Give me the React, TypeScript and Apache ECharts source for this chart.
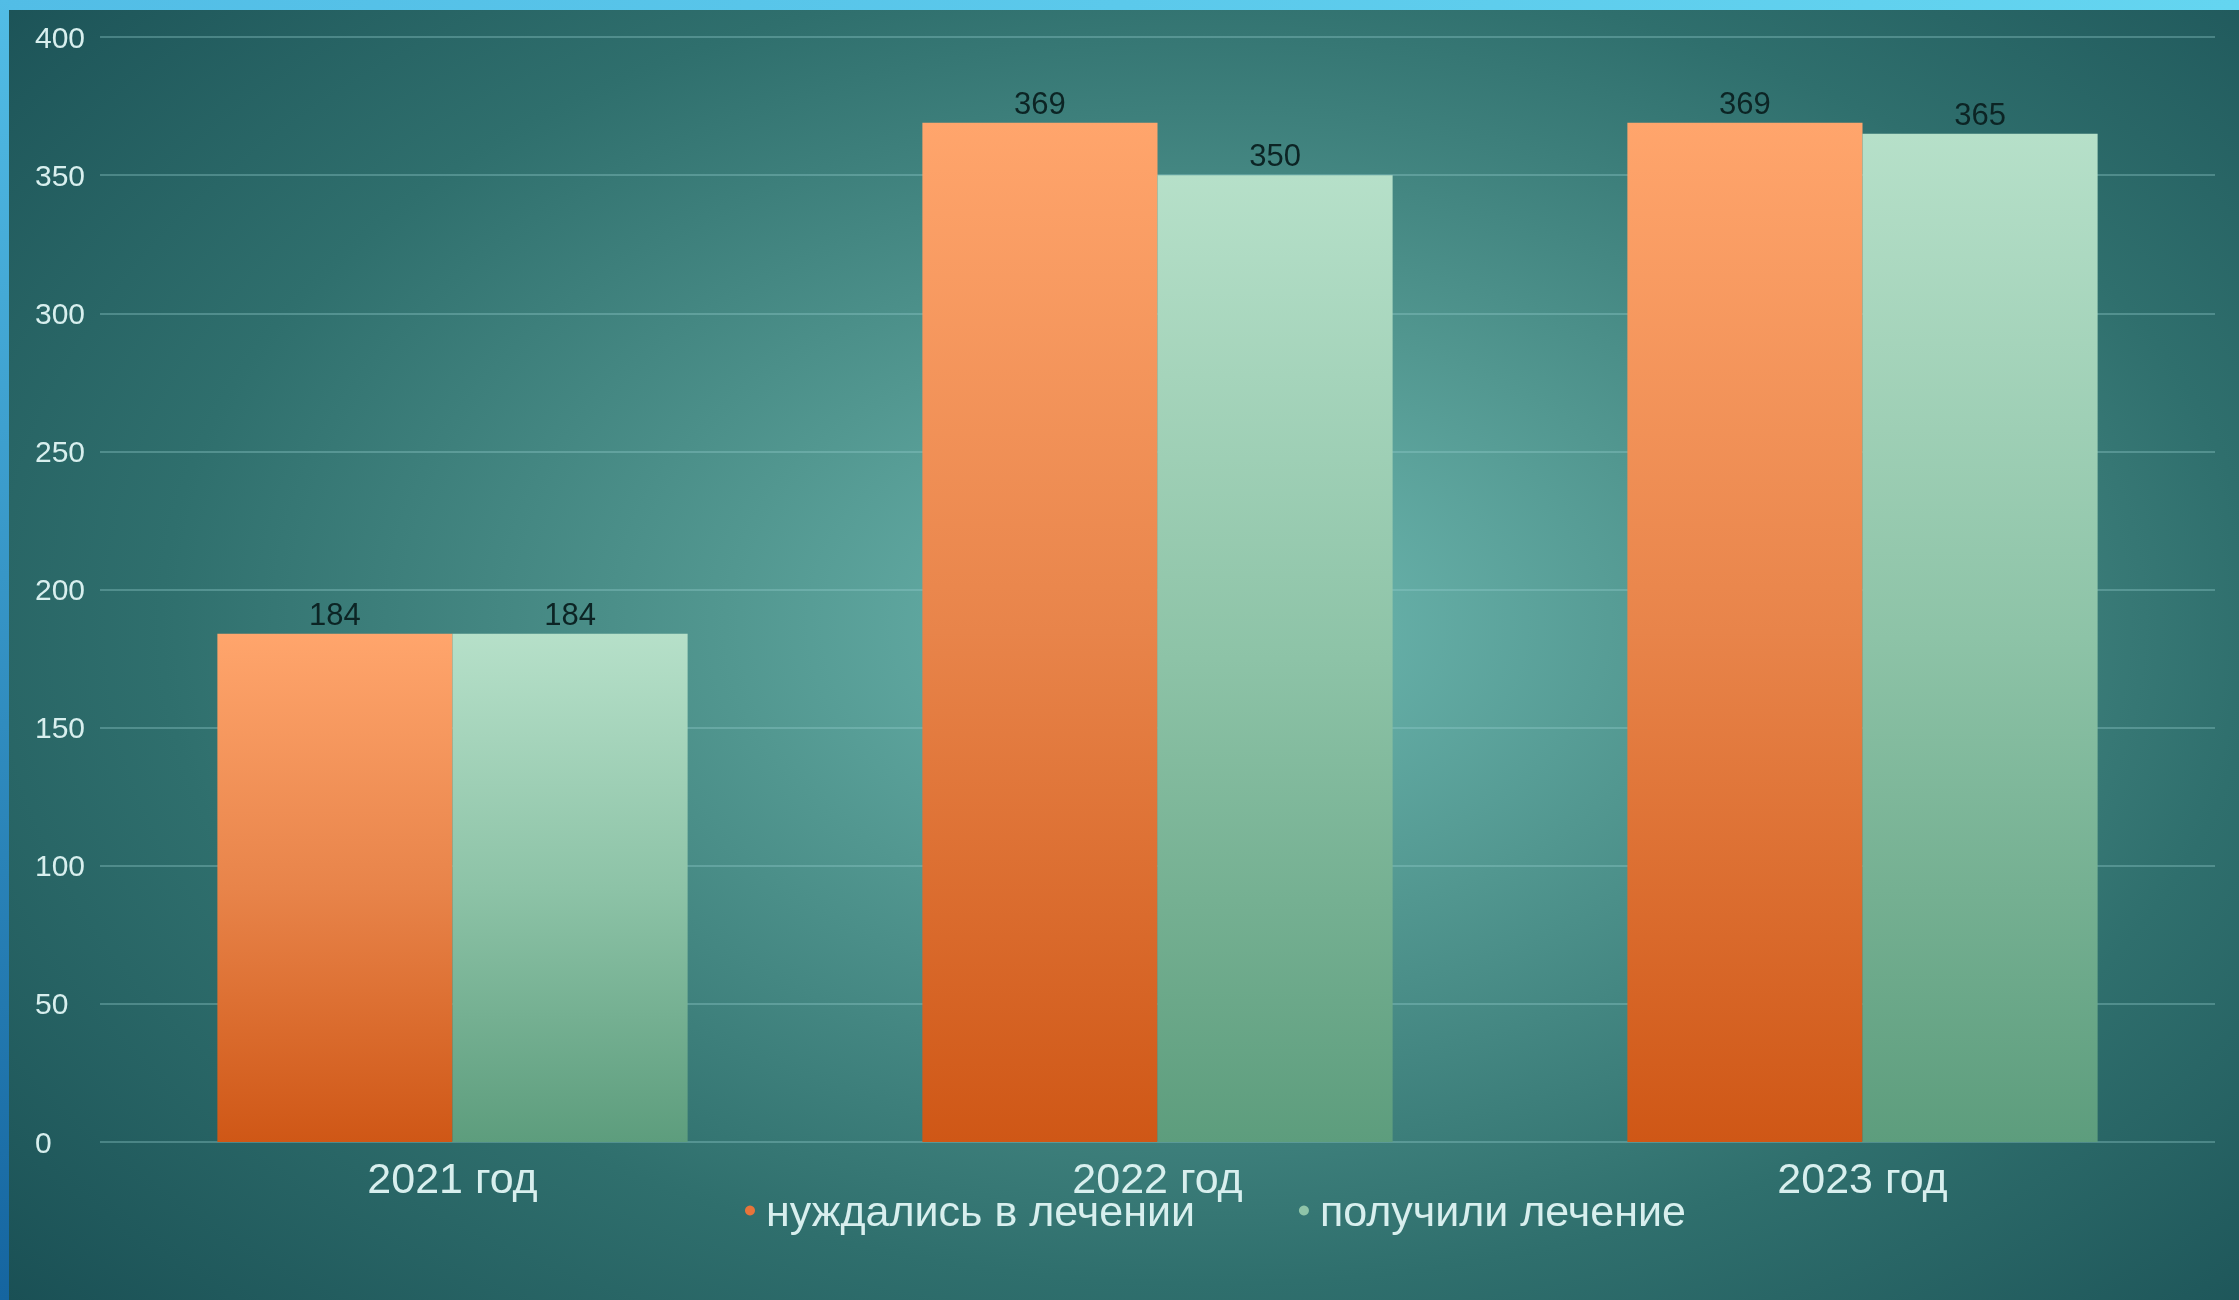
import React, { useEffect, useRef } from "react";
import * as echarts from "echarts";

const categories = ["2021 год", "2022 год", "2023 год"];
const needed = [184, 369, 369];
const received = [184, 350, 365];
const seriesNames = ["нуждались в лечении", "получили лечение"];

const FONT = "'Liberation Sans', Arial, sans-serif";

export default function App() {
  const ref = useRef<HTMLDivElement>(null);
  useEffect(() => {
    document.body.style.margin = "0";
    if (!ref.current) return;
    const chart = echarts.init(ref.current, null, { renderer: "svg" });
    const orange = new echarts.graphic.LinearGradient(0, 0, 0, 1, [
      { offset: 0, color: "#ffa56c" },
      { offset: 0.5, color: "#e8844a" },
      { offset: 1, color: "#cf5716" },
    ]);
    const green = new echarts.graphic.LinearGradient(0, 0, 0, 1, [
      { offset: 0, color: "#b6e0c9" },
      { offset: 0.5, color: "#8dc3a7" },
      { offset: 1, color: "#5d9d7d" },
    ]);
    chart.setOption({
      animation: false,
      backgroundColor: "transparent",
      textStyle: { fontFamily: FONT },
      grid: { left: 100, right: 24, top: 37, bottom: 158, containLabel: false },
      legend: {
        left: 740,
        top: 1184,
        itemWidth: 10,
        itemHeight: 10,
        itemGap: 104,
        icon: "circle",
        textStyle: { color: "#d8efee", fontSize: 43, fontFamily: FONT, padding: [0, 0, 0, 6] },
        data: [
          { name: seriesNames[0], itemStyle: { color: "#e8743a" } },
          { name: seriesNames[1], itemStyle: { color: "#8fc4a8" } },
        ],
      },
      xAxis: {
        type: "category",
        data: categories,
        axisLine: { show: false },
        axisTick: { show: false },
        axisLabel: { color: "#d8efee", fontSize: 43, fontFamily: FONT, margin: 14 },
      },
      yAxis: {
        type: "value",
        min: 0,
        max: 400,
        interval: 50,
        axisLine: { show: false },
        axisTick: { show: false },
        axisLabel: { color: "#d8efee", fontSize: 30, fontFamily: FONT, margin: 65, align: "left" },
        splitLine: { lineStyle: { color: "rgba(150,205,205,0.35)", width: 2 } },
      },
      series: [
        {
          name: seriesNames[0],
          type: "bar",
          data: needed,
          barGap: "0%",
          barCategoryGap: "33.3%",
          itemStyle: { color: orange },
          label: { show: true, position: "top", distance: 4, color: "#0c2424", fontSize: 31, fontFamily: FONT },
        },
        {
          name: seriesNames[1],
          type: "bar",
          data: received,
          barGap: "0%",
          barCategoryGap: "33.3%",
          itemStyle: { color: green },
          label: { show: true, position: "top", distance: 4, color: "#0c2424", fontSize: 31, fontFamily: FONT },
        },
      ],
    });
    return () => chart.dispose();
  }, []);

  return (
    <div
      style={{
        position: "fixed",
        left: 0,
        top: 0,
        width: 2239,
        height: 1300,
        overflow: "hidden",
        background:
          "radial-gradient(ellipse 72% 78% at 54% 48%, #6fbab2 0%, #529790 30%, #2f6f6d 65%, #1a5055 100%)",
      }}
    >
      <div
        style={{
          position: "absolute",
          left: 0,
          top: 0,
          width: 2239,
          height: 10,
          background: "linear-gradient(to right, #52bde6, #64d5f0)",
        }}
      />
      <div
        style={{
          position: "absolute",
          left: 0,
          top: 0,
          width: 9,
          height: 1300,
          background: "linear-gradient(to bottom, #52bde6, #1565a0)",
        }}
      />
      <div ref={ref} style={{ position: "absolute", left: 0, top: 0, width: 2239, height: 1300 }} />
    </div>
  );
}
